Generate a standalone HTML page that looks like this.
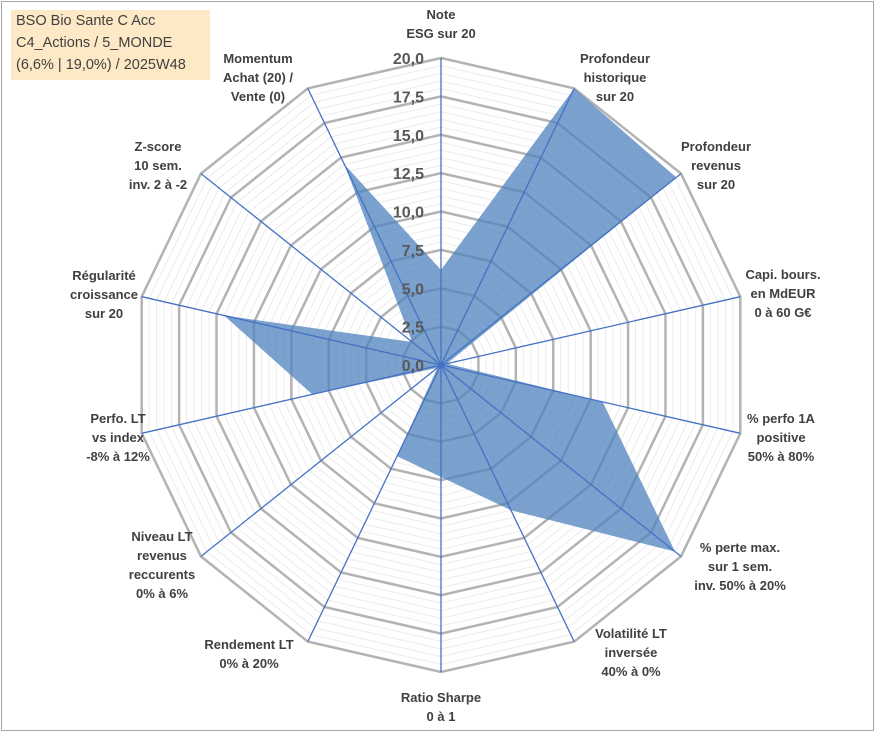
<!DOCTYPE html>
<html><head><meta charset="utf-8"><style>
body{margin:0;background:#fff;}
#wrap{position:relative;width:875px;height:731px;overflow:hidden;background:#fff;}
#frame{position:absolute;left:1px;top:1px;width:871px;height:728px;border:1px solid #a6a6a6;}
#title{position:absolute;left:11px;top:10px;width:199px;height:70px;background:#fde9c6;font-family:"Liberation Sans",sans-serif;font-size:14.5px;line-height:22px;color:#404040;padding:0 0 0 5px;box-sizing:border-box;}
.lbl{position:absolute;font-family:"Liberation Sans",sans-serif;font-weight:bold;font-size:13px;line-height:19px;color:#404040;text-align:center;transform:translateX(-50%);white-space:nowrap;}
svg{position:absolute;left:0;top:0;}
</style></head><body>
<div id="wrap">
<div id="frame"></div>
<svg id="chart" width="875" height="731"></svg>
<div id="title">BSO Bio Sante C Acc<br>C4_Actions / 5_MONDE<br>(6,6% | 19,0%) / 2025W48</div>
<div class="lbl" style="left:441px;top:5px">Note<br>ESG sur 20</div>
<div class="lbl" style="left:615px;top:49px">Profondeur<br>historique<br>sur 20</div>
<div class="lbl" style="left:716px;top:137px">Profondeur<br>revenus<br>sur 20</div>
<div class="lbl" style="left:783px;top:265px">Capi. bours.<br>en MdEUR<br>0 à 60 G€</div>
<div class="lbl" style="left:781px;top:409px">% perfo 1A<br>positive<br>50% à 80%</div>
<div class="lbl" style="left:740px;top:538px">% perte max.<br>sur 1 sem.<br>inv. 50% à 20%</div>
<div class="lbl" style="left:631px;top:624px">Volatilité LT<br>inversée<br>40% à 0%</div>
<div class="lbl" style="left:441px;top:688px">Ratio Sharpe<br>0 à 1</div>
<div class="lbl" style="left:249px;top:635px">Rendement LT<br>0% à 20%</div>
<div class="lbl" style="left:162px;top:527px">Niveau LT<br>revenus<br>reccurents<br>0% à 6%</div>
<div class="lbl" style="left:118px;top:409px">Perfo. LT<br>vs index<br>-8% à 12%</div>
<div class="lbl" style="left:104px;top:266px">Régularité<br>croissance<br>sur 20</div>
<div class="lbl" style="left:158px;top:137px">Z-score<br>10 sem.<br>inv. 2 à -2</div>
<div class="lbl" style="left:258px;top:49px">Momentum<br>Achat (20) /<br>Vente (0)</div>
</div>
<script>
const categories=["Note ESG","Profondeur historique","Profondeur revenus","Capi. bours.","% perfo 1A","% perte max.","Volatilité LT","Ratio Sharpe","Rendement LT","Niveau LT","Perfo. LT","Régularité","Z-score","Momentum"];
const values=[6.2,20,19.6,0.4,10.8,19.5,10.5,7.3,6.6,0.3,8.6,14.5,2.4,14.5];
const tickValues=[0,2.5,5,7.5,10,12.5,15,17.5,20];
const tickLabels=["0,0","2,5","5,0","7,5","10,0","12,5","15,0","17,5","20,0"];
const cx=441,cy=365,R=307,maxV=20;
const svg=document.getElementById('chart');
const NS="http://www.w3.org/2000/svg";
const N=categories.length;
function rScale(v){return v/maxV*R;}
function pt(i,v){const a=2*Math.PI*i/N;return [cx+rScale(v)*Math.sin(a),cy-rScale(v)*Math.cos(a)];}
function mk(t,attrs){const e=document.createElementNS(NS,t);for(const k in attrs)e.setAttribute(k,attrs[k]);svg.appendChild(e);return e;}
// minor rings
for(let v=0.5;v<maxV;v+=0.5){
  if(Math.abs(v/2.5-Math.round(v/2.5))<1e-6)continue;
  const p=[];for(let i=0;i<N;i++)p.push(pt(i,v).join(','));
  const e=mk('polygon',{points:p.join(' '),fill:'none',stroke:'#ececec','stroke-width':1});
  
  
}
tickValues.forEach((v,k)=>{
  if(v===0)return;
  const p=[];for(let i=0;i<N;i++)p.push(pt(i,v).join(','));
  const e=mk('polygon',{points:p.join(' '),fill:'none',stroke:'#b3b3b3','stroke-width':2.5});
  
  
});
// series
const sp=values.map((v,i)=>pt(i,v).join(',')).join(' ');
const poly=mk('polygon',{points:sp,fill:'#4f81bd','fill-opacity':0.75,stroke:'none'});


// axis lines
for(let i=0;i<N;i++){
  const [x,y]=pt(i,maxV);
  const l=mk('line',{x1:cx,y1:cy,x2:x,y2:y,stroke:'#4472c4','stroke-width':1.3});
  
  
}
// tick labels
tickValues.forEach((v,k)=>{
  const t=mk('text',{x:cx-17,y:cy-rScale(v)+6,'text-anchor':'end','font-family':'Liberation Sans, sans-serif','font-size':16,'font-weight':'bold',fill:'#595959'});
  t.textContent=tickLabels[k];
  
  
});
</script>
</body></html>
